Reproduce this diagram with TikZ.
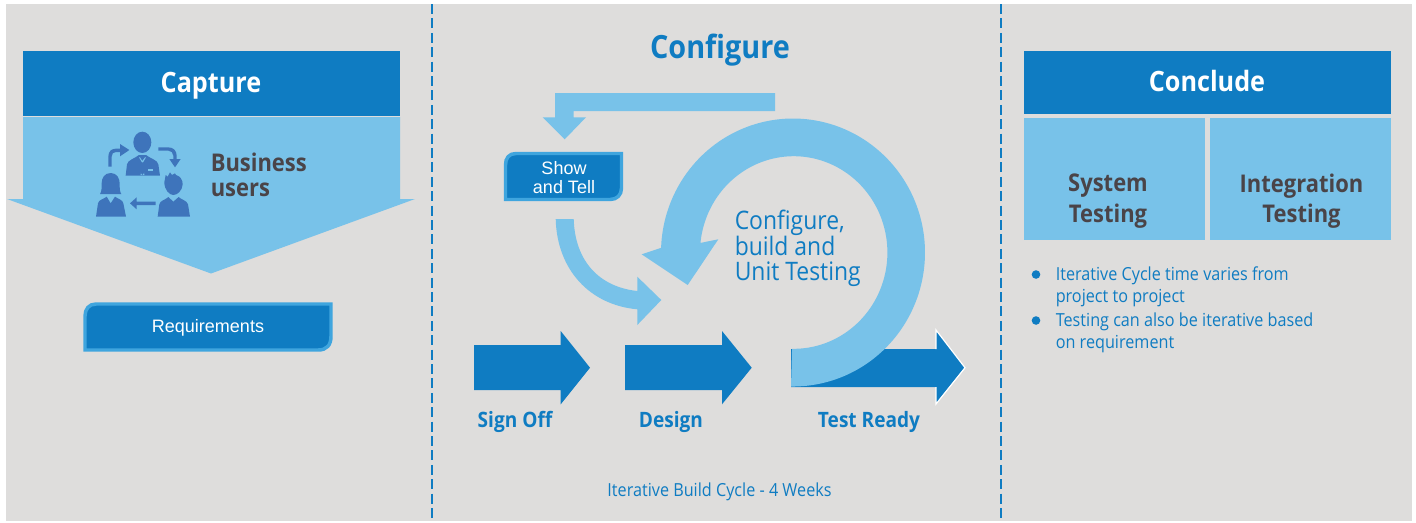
\documentclass[tikz,border=0pt]{standalone}
\usepackage{fontspec}
\setmainfont{Open Sans}[FakeStretch=0.9]
\newfontfamily\arialf{Liberation Sans}
\definecolor{bgc}{HTML}{DEDDDC}
\definecolor{darkb}{HTML}{0F7CC2}
\definecolor{lightb}{HTML}{78C2E9}
\definecolor{edgeb}{HTML}{3FA5DE}
\definecolor{inkc}{HTML}{4A4448}
\definecolor{iconc}{HTML}{3E74BB}
\tikzset{
  panel/.style={fill=bgc,draw=none},
  divider/.style={draw=darkb,line width=1.5pt*0.75,dash pattern=on 7.5pt off 3.3pt},
  darkarrow/.style={fill=darkb,draw=none},
  lightshape/.style={fill=lightb,draw=none},
  titletext/.style={text=white,inner sep=0pt,anchor=base,font=\fontsize{21}{25}\selectfont\bfseries},
  lightbox/.style={fill=lightb,draw=none},
  inklabel/.style={text=inkc,font=\fontsize{18.3}{22.7}\selectfont\bfseries,inner sep=0pt,align=center},
  stepname/.style={text=darkb,font=\fontsize{15.9}{18}\selectfont\bfseries,inner sep=0pt,anchor=base},
  bluetext/.style={text=darkb,inner sep=0pt,align=left,font=\fontsize{13.5}{16.5}\selectfont},
  bigblue/.style={text=darkb,inner sep=0pt,anchor=base west,font=\fontsize{19.1}{20}\selectfont},
  chip/.style={fill=darkb,draw=edgeb,line width=2.6pt},
  chiptext/.style={text=white,inner sep=0pt,align=center,font=\arialf\fontsize{13.5}{14.2}\selectfont},
}
\begin{document}
\begin{tikzpicture}[x=0.75pt,y=-0.75pt]
\useasboundingbox (0,0) rectangle (1416,522);
\fill[white] (0,0) rectangle (1416,522);
\fill[panel] (6,4) rectangle (1412,521);
% dividers
\coordinate (d1a) at (432,4); \coordinate (d1b) at (432,518);
\coordinate (d2a) at (1001,4); \coordinate (d2b) at (1001,518);
\draw[divider] (d1a) -- (d1b);
\draw[divider] (d2a) -- (d2b);
% Capture
\fill[lightshape] (23,117) -- (400,117) -- (400,199) -- (415,199) -- (211,273.5) -- (7,199) -- (23,199) -- cycle;
\fill[darkb] (23,51) rectangle (400,116);
\node[titletext] (capture) at (211,92.5) {Capture};
\begin{scope}[shift={(90,125)},x=0.25pt,y=-0.25pt]
  \fill[iconc] (157,52) ellipse [x radius=27,y radius=32];
  \fill[iconc] (107,152) -- (111,118) .. controls (113,105) and (135,100) .. (147,90) -- (168,90) .. controls (180,100) and (203,105) .. (205,118) -- (210,152) -- cycle;
  \fill[lightb] (150,97) -- (157,108) -- (165,97) -- (168,97) -- (159,112) -- (163,150) -- (152,150) -- (156,112) -- (147,97) -- cycle;
  \fill[iconc] (153,112) -- (162,112) -- (165,140) -- (157,150) -- (150,140) -- cycle;
  \fill[lightb] (175,132) rectangle (190,137);
  % woman
  \fill[iconc] (62,144) .. controls (43,144) and (35,160) .. (35,175) .. controls (35,190) and (35,200) .. (30,207) -- (94,207) .. controls (89,200) and (89,190) .. (89,175) .. controls (89,160) and (81,144) .. (62,144) -- cycle;
  \fill[iconc] (18,275) -- (24,235) .. controls (26,224) and (42,222) .. (50,215) -- (62,235) -- (75,215) .. controls (84,222) and (98,224) .. (100,235) -- (108,275) -- cycle;
  % man
  \fill[iconc] (223,172) -- (227,150) -- (233,155) -- (240,142) -- (246,150) -- (255,145) -- (258,150) .. controls (270,153) and (279,165) .. (278,178) .. controls (277,197) and (262,210) .. (250,210) .. controls (238,210) and (223,194) .. (223,172) -- cycle;
  \fill[iconc] (203,275) -- (208,238) .. controls (210,226) and (228,224) .. (235,216) -- (250,230) -- (266,216) .. controls (273,224) and (291,226) .. (294,238) -- (300,275) -- cycle;
  % cycle arrows
  \fill[iconc] (197,230) -- (140,230) -- (140,217) -- (120,235) -- (140,253) -- (140,240) -- (197,240) -- cycle;
  \fill[iconc] (55,125) -- (55,95) .. controls (55,78) and (65,71) .. (78,71) -- (90,71) -- (90,57) -- (118,75) -- (90,94) -- (90,81) -- (78,81) .. controls (70,81) and (65,86) .. (65,95) -- (65,125) -- cycle;
  \fill[iconc] (205,67) -- (235,67) .. controls (250,67) and (260,77) .. (260,92) -- (260,102) -- (272,102) -- (255,127) -- (238,102) -- (250,102) -- (250,92) .. controls (250,83) and (243,77) .. (235,77) -- (205,77) -- cycle;
\end{scope}
\node[inklabel,anchor=base west] (business) at (210.5,171) {Business};
\node[inklabel,anchor=base west] (busers) at (210.5,196) {users};
% Requirements chip
\fill[chip] (96,304) -- (331,304) -- (331,336) .. controls (331,345) and (327,350) .. (318,350) -- (85,350) -- (85,316) .. controls (85,309) and (89,304) .. (96,304) -- cycle;
\node[chiptext] (req) at (208,327.5) {Requirements};
% Configure
\node[text=darkb,inner sep=0pt,anchor=base,font=\fontsize{24}{28}\selectfont\bfseries] (configure) at (720,58) {Configure};
\fill[lightshape] (555,93) -- (775,93) -- (775,111) -- (573.7,111) -- (573.7,117.3) -- (586,117.3) -- (564.7,139.3) -- (542.7,117.3) -- (555,117.3) -- cycle;
\fill[chip] (516,153.5) -- (621.5,153.5) -- (621.5,188) .. controls (621.5,195) and (617,199.5) .. (610,199.5) -- (505.5,199.5) -- (505.5,165) .. controls (505.5,158) and (509,153.5) .. (516,153.5) -- cycle;
\node[chiptext] (show) at (564,177.5) {Show\\and Tell};
\fill[lightshape] (555.7,219) .. controls (557,270) and (590,305) .. (637.3,309.3) -- (637.3,325) -- (661.3,300) -- (637.3,276.7) -- (637.3,291) .. controls (600,287) and (575,262) .. (573.7,219) -- cycle;
% step arrows
\fill[darkarrow] (474,345) -- (560.7,345) -- (560.7,331) -- (590,367.7) -- (560.7,404.3) -- (560.7,390) -- (474,390) -- cycle;
\fill[darkarrow] (625,345) -- (722,345) -- (722,331) -- (751.7,367.7) -- (722,404.3) -- (722,390) -- (625,390) -- cycle;
\fill[darkarrow] (791,349) -- (936,349) -- (936,330) -- (965,367.7) -- (936,404) -- (936,387) -- (791,387) -- cycle;
\draw[white,line width=0.9pt] (936,349) -- (936,330) -- (965,367.7) -- (936,404) -- (936,387);
% big arc
\fill[lightshape] (791,386.7)
  -- plot[domain=89:-178,samples=140] ({793+132*cos(\x)},{252.5+134*sin(\x)})
  -- (641.7,254.3) -- (687.7,285) -- (718.3,239.3) -- (700,243)
  -- plot[domain=-175:91,samples=140] ({793.7+93.7*cos(\x)},{252.5+96.3*sin(\x)})
  -- cycle;
\node[bigblue] (cfg1) at (734.5,229.5) {Configure,};
\node[bigblue] (cfg2) at (734.5,255.5) {build and};
\node[bigblue] (cfg3) at (734.5,280.5) {Unit Testing};
\node[stepname] (signoff) at (515,427) {Sign Off};
\node[stepname] (design) at (671,427) {Design};
\node[stepname] (testready) at (869,427) {Test Ready};
\node[bluetext,anchor=base] (cycle) at (719.5,496) {Iterative Build Cycle - 4 Weeks};
% Conclude
\fill[darkb] (1024,51) rectangle (1391,114);
\node[titletext] (conclude) at (1207,91) {Conclude};
\fill[lightbox] (1024,118) rectangle (1205,240);
\fill[lightbox] (1210,118) rectangle (1391,240);
\node[inklabel] (system) at (1108,201) {System\\Testing};
\node[inklabel] (integration) at (1301.5,201) {Integration\\Testing};
\fill[darkb] (1036,274.5) circle [radius=4.3];
\fill[darkb] (1036,320.5) circle [radius=4.3];
\node[bluetext,anchor=base west] (b1a) at (1055.5,280.5) {Iterative Cycle time varies from};
\node[bluetext,anchor=base west] (b1b) at (1055.5,302.5) {project to project};
\node[bluetext,anchor=base west] (b2a) at (1055.5,326.5) {Testing can also be iterative based};
\node[bluetext,anchor=base west] (b2b) at (1055.5,348.5) {on requirement};
\end{tikzpicture}
\end{document}
